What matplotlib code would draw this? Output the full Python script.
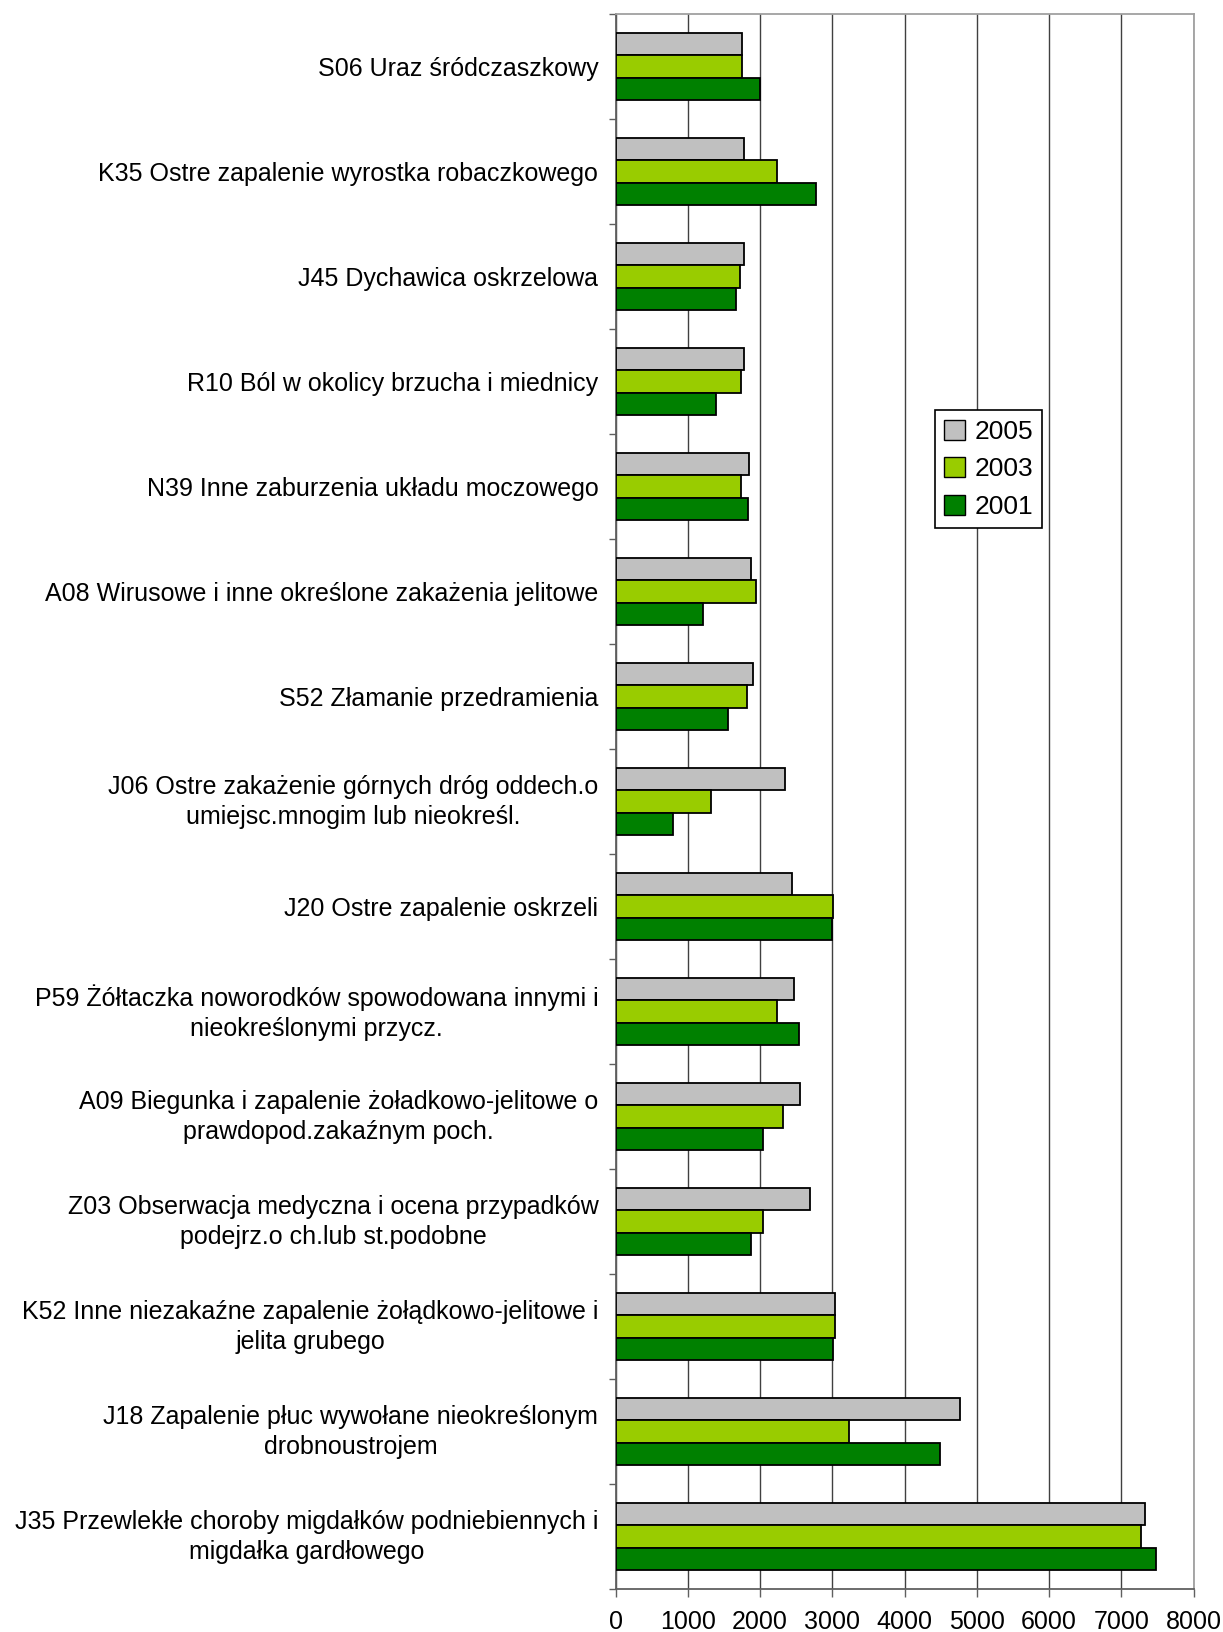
import matplotlib
matplotlib.use("Agg")
import matplotlib.pyplot as plt
import matplotlib.transforms as mtransforms
import numpy as np

plt.rcParams['font.family'] = ['Liberation Sans', 'DejaVu Sans']

categories = [
    "S06 Uraz śródczaszkowy",
    "K35 Ostre zapalenie wyrostka robaczkowego",
    "J45 Dychawica oskrzelowa",
    "R10 Ból w okolicy brzucha i miednicy",
    "N39 Inne zaburzenia układu moczowego",
    "A08 Wirusowe i inne określone zakażenia jelitowe",
    "S52 Złamanie przedramienia",
    "J06 Ostre zakażenie górnych dróg oddech.o\numiejsc.mnogim lub nieokreśl.",
    "J20 Ostre zapalenie oskrzeli",
    "P59 Żółtaczka noworodków spowodowana innymi i\nnieokreślonymi przycz.",
    "A09 Biegunka i zapalenie żoładkowo-jelitowe o\nprawdopod.zakaźnym poch.",
    "Z03 Obserwacja medyczna i ocena przypadków\npodejrz.o ch.lub st.podobne",
    "K52 Inne niezakaźne zapalenie żołądkowo-jelitowe i\njelita grubego",
    "J18 Zapalenie płuc wywołane nieokreślonym\ndrobnoustrojem",
    "J35 Przewlekłe choroby migdałków podniebiennych i\nmigdałka gardłowego",
]

years = ["2005", "2003", "2001"]
values_2005 = [1750, 1773, 1773, 1772, 1844, 1873, 1902, 2345, 2442, 2470, 2550, 2695, 3040, 4763, 7328]
values_2003 = [1745, 2234, 1717, 1729, 1729, 1945, 1816, 1320, 3014, 2234, 2320, 2046, 3040, 3236, 7277]
values_2001 = [2000, 2775, 1671, 1383, 1830, 1210, 1556, 798, 2992, 2543, 2046, 1873, 3012, 4490, 7482]

colors = ["#C0C0C0", "#99CC00", "#008000"]
x_ticks = [0, 1000, 2000, 3000, 4000, 5000, 6000, 7000, 8000]

fig = plt.figure(figsize=(12.23, 16.32), dpi=100)
ax = fig.add_axes([0.5034, 0.0263, 0.4725, 0.9651])

n = len(categories)
pos = np.arange(n)
h = 0.215
series = [values_2005, values_2003, values_2001]
for k, (vals, col, yr) in enumerate(zip(series, colors, years)):
    ax.barh(pos + (k - 1) * h, vals, height=h, color=col, edgecolor="black",
            linewidth=1.3, label=yr, zorder=3)

ax.set_ylim(n - 0.5, -0.5)
ax.set_xlim(0, 8000)

ax.set_xticks(x_ticks)
ax.set_xticklabels([str(t) for t in x_ticks], fontsize=18)
ax.tick_params(axis='x', direction='out', length=5.8, width=1, color="#606060", pad=9.5)

ax.set_yticks(pos)
ax.set_yticklabels(categories, fontsize=18, multialignment='center', linespacing=1.32)
ax.tick_params(axis='y', which='major', length=0, pad=12.5)
ax.set_yticks(np.arange(-0.5, n, 1.0), minor=True)
ax.tick_params(axis='y', which='minor', direction='out', length=5, width=1, color="#606060")

# two-line labels sit a little higher within their band
lift = mtransforms.ScaledTranslation(0, 3.5 / 72, fig.dpi_scale_trans)
for lbl in ax.get_yticklabels():
    if "\n" in lbl.get_text():
        lbl.set_transform(lbl.get_transform() + lift)

ax.xaxis.grid(True, color="#404040", linewidth=1.0, zorder=0)
ax.set_axisbelow(True)

for side in ['left', 'bottom']:
    ax.spines[side].set_color("#606060")
    ax.spines[side].set_linewidth(1.3)
for side in ['top', 'right']:
    ax.spines[side].set_color("#A0A0A0")
    ax.spines[side].set_linewidth(1.3)

leg = ax.legend(loc='center', bbox_to_anchor=(0.645, 0.711), fontsize=19,
                frameon=True, fancybox=False, edgecolor='black', framealpha=1,
                handlelength=0.8, handleheight=0.8, handletextpad=0.35,
                labelspacing=0.5, borderpad=0.35, borderaxespad=0)
leg.get_frame().set_linewidth(1.2)
for p in leg.get_patches():
    p.set_linewidth(1.0)

fig.savefig("out.png", dpi=100)
